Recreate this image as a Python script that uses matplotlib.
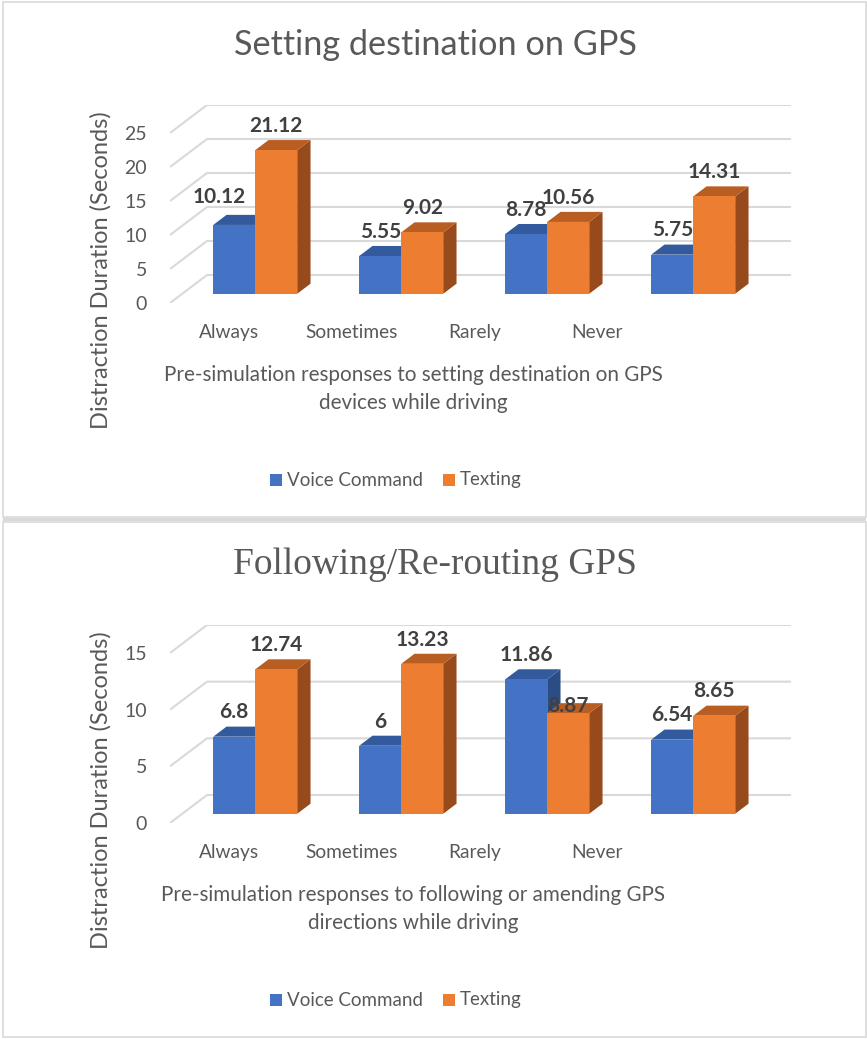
import matplotlib.pyplot as plt
from matplotlib.patches import Polygon, Rectangle

# canvas size in pixels (dpi 100)
W, H = 867, 1039

categories = ['Always', 'Sometimes', 'Rarely', 'Never']
series_names = ['Voice Command', 'Texting']

setting_voice = [10.12, 5.55, 8.78, 5.75]
setting_text = [21.12, 9.02, 10.56, 14.31]
setting_ticks = [0, 5, 10, 15, 20, 25]

routing_voice = [6.8, 6, 11.86, 6.54]
routing_text = [12.74, 13.23, 8.87, 8.65]
routing_ticks = [0, 5, 10, 15]

# front, top, side shades for each series
shades = {
    'Voice Command': ('#4472C4', '#335A9C', '#2B4D86'),
    'Texting': ('#ED7D31', '#B85E22', '#974A1B'),
}
GRID = '#D9D9D9'
TXT = '#595959'
LBL = '#404040'
SANS = ['Lato', 'DejaVu Sans']

plt.rcParams['font.family'] = SANS

fig = plt.figure(figsize=(W / 100, H / 100), dpi=100)


def fx(x):
    return x / W


def fy(y):
    return 1 - y / H


def draw_panel(off, title, title_font, title_size, voice, text, ticks, xtitle):
    # panel frame
    fig.patches.append(Rectangle((fx(2.5), fy(off + 517)), fx(863), 515 / H,
                                 transform=fig.transFigure, fill=False,
                                 edgecolor=GRID, lw=1.2))

    # plot area: front zero line at y=303, back wall top at y=105
    left, right, top, bottom = 170, 791, 105 + off, 303 + off
    ax = fig.add_axes([fx(left), fy(bottom), (right - left) / W, (bottom - top) / H])
    depth_x, depth_y = 37, 28  # pixel offset from front to back wall
    ncat = len(categories)
    DX = depth_x * ncat / ((right - left) - depth_x)
    tmax = ticks[-1]
    DY = depth_y * tmax / ((bottom - top) - depth_y)
    ax.set_xlim(0, ncat + DX)
    ax.set_ylim(0, tmax + DY)
    for s in ax.spines.values():
        s.set_visible(False)
    ax.patch.set_alpha(0)

    def P(x, v, d):
        return (x + d * DX, v + d * DY)

    # side wall diagonals and back wall gridlines
    for t in ticks:
        xs, ys = zip(P(0, t, 0), P(0, t, 1), P(ncat, t, 1))
        ax.plot(xs, ys, color=GRID, lw=1.5, solid_capstyle='butt', zorder=1)

    ax.set_yticks(ticks)
    ax.set_yticklabels([str(t) for t in ticks])
    ax.tick_params(axis='y', length=0, pad=16.5, labelsize=14, labelcolor=TXT)

    # category labels sit on their own (narrower) spacing under the floor
    lab_x = [(229 - left) / 146 + 0.84 * i for i in range(ncat)]
    ax.set_xticks(lab_x)
    ax.set_xticklabels(categories)
    ax.tick_params(axis='x', length=0, pad=15, labelsize=13.8, labelcolor=TXT)

    bw = 42 / 146
    d0, d1 = 0.33, 0.69
    renderer = fig.canvas.get_renderer()
    for i in range(ncat):
        c = i + 0.5
        bars = [(c - bw, c, voice[i], 'Voice Command'), (c, c + bw, text[i], 'Texting')]
        labels = []
        for x0, x1, v, name in bars:
            front, topc, side = shades[name]
            ax.add_patch(Polygon([P(x1, 0, d0), P(x1, v, d0), P(x1, v, d1), P(x1, 0, d1)],
                                 closed=True, facecolor=side, edgecolor='none', zorder=3))
            ax.add_patch(Polygon([P(x0, v, d0), P(x1, v, d0), P(x1, v, d1), P(x0, v, d1)],
                                 closed=True, facecolor=topc, edgecolor='none', zorder=3))
            ax.add_patch(Polygon([P(x0, 0, d0), P(x1, 0, d0), P(x1, v, d0), P(x0, v, d0)],
                                 closed=True, facecolor=front, edgecolor='none', zorder=3))
            lx = (x0 + x1) / 2 + d0 * DX
            ly = v + d1 * DY
            a = ax.annotate(f'{v:g}', (lx, ly), xytext=(0, 3), textcoords='offset points',
                            ha='center', va='bottom', fontsize=15, fontweight='bold',
                            color=LBL, zorder=5)
            labels.append(a)
        # move the first label aside when it runs into a taller neighbour
        bb = labels[0].get_window_extent(renderer)
        nx, ny = ax.transData.transform(P(c, text[i], d0))
        if bb.x1 - nx > 4 and ny > bb.y0:
            labels[0].set_ha('right')
            labels[0].xy = (c + d0 * DX, voice[i] + d1 * DY)
            labels[0].set_position((-7, 5.7))
        # second label drops down beside a taller first bar's side face
        bb = labels[1].get_window_extent(renderer)
        sx, sy = ax.transData.transform(P(c, voice[i], d1))
        if voice[i] > text[i] and bb.x0 < sx and bb.y0 < sy:
            labels[1].set_va('center')
            labels[1].set_position((0, -2))

    fig.text(fx(435), fy(off + 45), title, ha='center', va='center',
             fontsize=title_size, color=TXT, family=title_font)
    fig.text(fx(101), fy(off + 270), 'Distraction Duration (Seconds)', rotation=90,
             ha='center', va='center', fontsize=17, color=TXT)
    fig.text(fx(413), fy(off + 389), xtitle, ha='center', va='center',
             fontsize=14.9, color=TXT, linespacing=1.45)

    # legend
    lx = 270
    for name, tx in zip(series_names, [287, 460]):
        fig.patches.append(Rectangle((fx(lx), fy(off + 486)), 12 / W, 12 / H,
                                     transform=fig.transFigure,
                                     facecolor=shades[name][0], edgecolor='none'))
        fig.text(fx(tx), fy(off + 480), name, ha='left', va='center',
                 fontsize=13.5, color=TXT)
        lx = 443


draw_panel(0, 'Setting destination on GPS', SANS, 24.7,
           setting_voice, setting_text, setting_ticks,
           'Pre-simulation responses to setting destination on GPS\ndevices while driving')

# light separator between the two panels
fig.patches.append(Rectangle((fx(2.5), fy(521)), fx(863), 3 / H,
                             transform=fig.transFigure, facecolor=GRID, edgecolor='none'))

draw_panel(520, 'Following/Re-routing GPS', ['Liberation Serif', 'DejaVu Serif'], 26.9,
           routing_voice, routing_text, routing_ticks,
           'Pre-simulation responses to following or amending GPS\ndirections while driving')

fig.savefig('out.png', dpi=100, facecolor='white')
